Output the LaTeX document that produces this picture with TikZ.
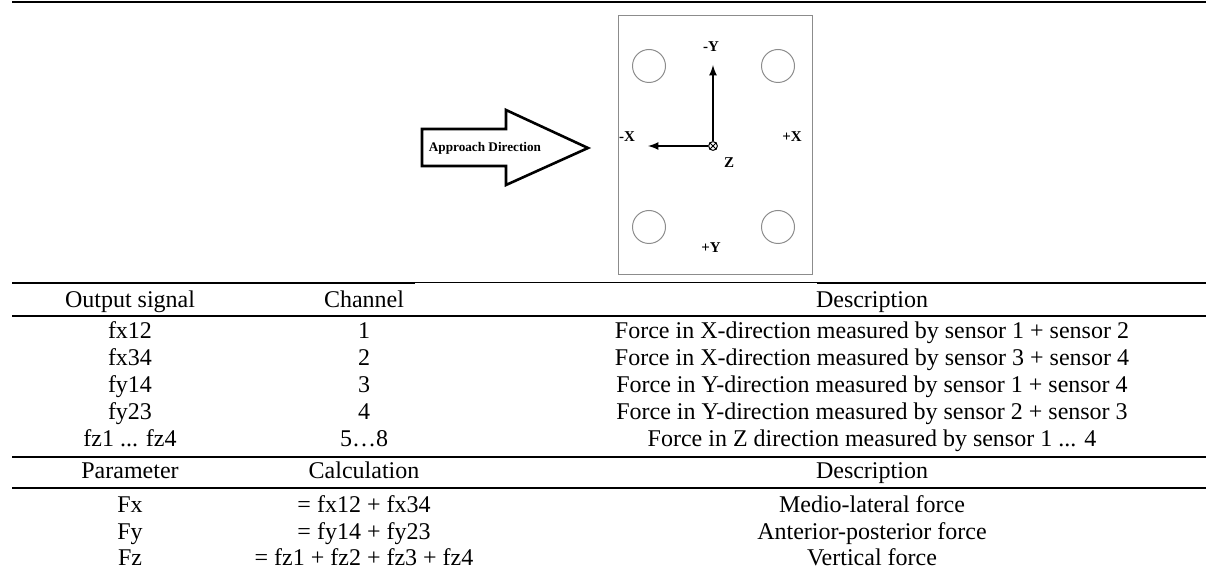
\documentclass[tikz,border=0pt]{standalone}
\usepackage{fontspec}
\setmainfont{Liberation Serif}

\begin{document}
\begin{tikzpicture}[x=0.5pt,y=-0.5pt]
            \tikzstyle{every node}+=[inner sep=0pt]
            \tikzstyle{cell}=[font=\fontsize{12}{14}\selectfont, text height=8.5pt, text depth=2.5pt]
            \tikzstyle{axlabel}=[font=\bfseries\fontsize{7.5}{9}\selectfont]
            \tikzstyle{thickrule}=[line width=1pt]
            \tikzstyle{thinrule}=[line width=0.5pt]
            \tikzstyle{hole}=[draw=black!45, line width=0.5pt, circle, minimum size=16.5pt]
            \useasboundingbox (0,0) rectangle (1206,572);
            \draw [thickrule] (12,2) -- (1206,2);
            % approach arrow
            \draw [black, line width=1.3pt, line join=miter] (422,129) -- (506,129) -- (506,110) -- (588,148) -- (506,185) -- (506,166) -- (422,166) -- cycle;
            \draw (485,148) node [font=\bfseries\fontsize{6.6}{8}\selectfont] (approach) {Approach Direction};
            % plate with sensors
            \draw [black!45, line width=0.5pt] (618,16) rectangle (812,275);
            \node [hole] (sensor1) at (649,66) {};
            \node [hole] (sensor2) at (778,66) {};
            \node [hole] (sensor3) at (649,227) {};
            \node [hole] (sensor4) at (778,227) {};
            \node [circle, draw, line width=0.5pt, minimum size=4.4pt] (origin) at (713,146) {};
            \draw [line width=0.5pt] (origin.north west) -- (origin.south east) (origin.north east) -- (origin.south west);
            \coordinate (ytip) at (713,65);
            \coordinate (xtip) at (648,146);
            \draw [line width=0.8pt, -latex] (origin.north) -- (ytip);
            \draw [line width=0.8pt, -latex] (origin.west) -- (xtip);
            \draw (711,47) node [axlabel] (negy) {-Y};
            \draw (627,137) node [axlabel] (negx) {-X};
            \draw (792,137) node [axlabel] (posx) {+X};
            \draw (729,163) node [axlabel] (zlabel) {Z};
            \draw (711,248) node [axlabel] (posy) {+Y};
            % rules
            \draw [thickrule] (12,283) -- (415,283);
            \draw [thinrule] (415,283) -- (817,283);
            \draw [thickrule] (817,283) -- (1206,283);
            \draw [thickrule] (12,316) -- (1206,316);
            \draw [thickrule] (12,457) -- (1206,457);
            \draw [thickrule] (12,488) -- (1206,488);
            % signals
            \draw (130,302) node [cell] (hsig) {Output signal};
            \draw (364,302) node [cell] (hchan) {Channel};
            \draw (872,302) node [cell] (hdesc) {Description};
            \draw (130,333) node [cell] (sig1) {fx12};
            \draw (364,333) node [cell] (chan1) {1};
            \draw (872,333) node [cell] (desc1) {Force in X-direction measured by sensor 1 + sensor 2};
            \draw (130,360) node [cell] (sig2) {fx34};
            \draw (364,360) node [cell] (chan2) {2};
            \draw (872,360) node [cell] (desc2) {Force in X-direction measured by sensor 3 + sensor 4};
            \draw (130,387) node [cell] (sig3) {fy14};
            \draw (364,387) node [cell] (chan3) {3};
            \draw (872,387) node [cell] (desc3) {Force in Y-direction measured by sensor 1 + sensor 4};
            \draw (130,414) node [cell] (sig4) {fy23};
            \draw (364,414) node [cell] (chan4) {4};
            \draw (872,414) node [cell] (desc4) {Force in Y-direction measured by sensor 2 + sensor 3};
            \draw (130,441) node [cell] (sig5) {fz1 ... fz4};
            \draw (364,441) node [cell] (chan5) {5…8};
            \draw (872,441) node [cell] (desc5) {Force in Z direction measured by sensor 1 ... 4};
            % parameters
            \draw (130,473) node [cell] (hpar) {Parameter};
            \draw (364,473) node [cell] (hcalc) {Calculation};
            \draw (872,473) node [cell] (hpdesc) {Description};
            \draw (130,506) node [cell] (parx) {Fx};
            \draw (364,506) node [cell] (calcx) {= fx12 + fx34};
            \draw (872,506) node [cell] (pdescx) {Medio-lateral force};
            \draw (130,533) node [cell] (pary) {Fy};
            \draw (364,533) node [cell] (calcy) {= fy14 + fy23};
            \draw (872,533) node [cell] (pdescy) {Anterior-posterior force};
            \draw (130,560) node [cell] (parz) {Fz};
            \draw (364,560) node [cell] (calcz) {= fz1 + fz2 + fz3 + fz4};
            \draw (872,560) node [cell] (pdescz) {Vertical force};
\end{tikzpicture}
\end{document}
